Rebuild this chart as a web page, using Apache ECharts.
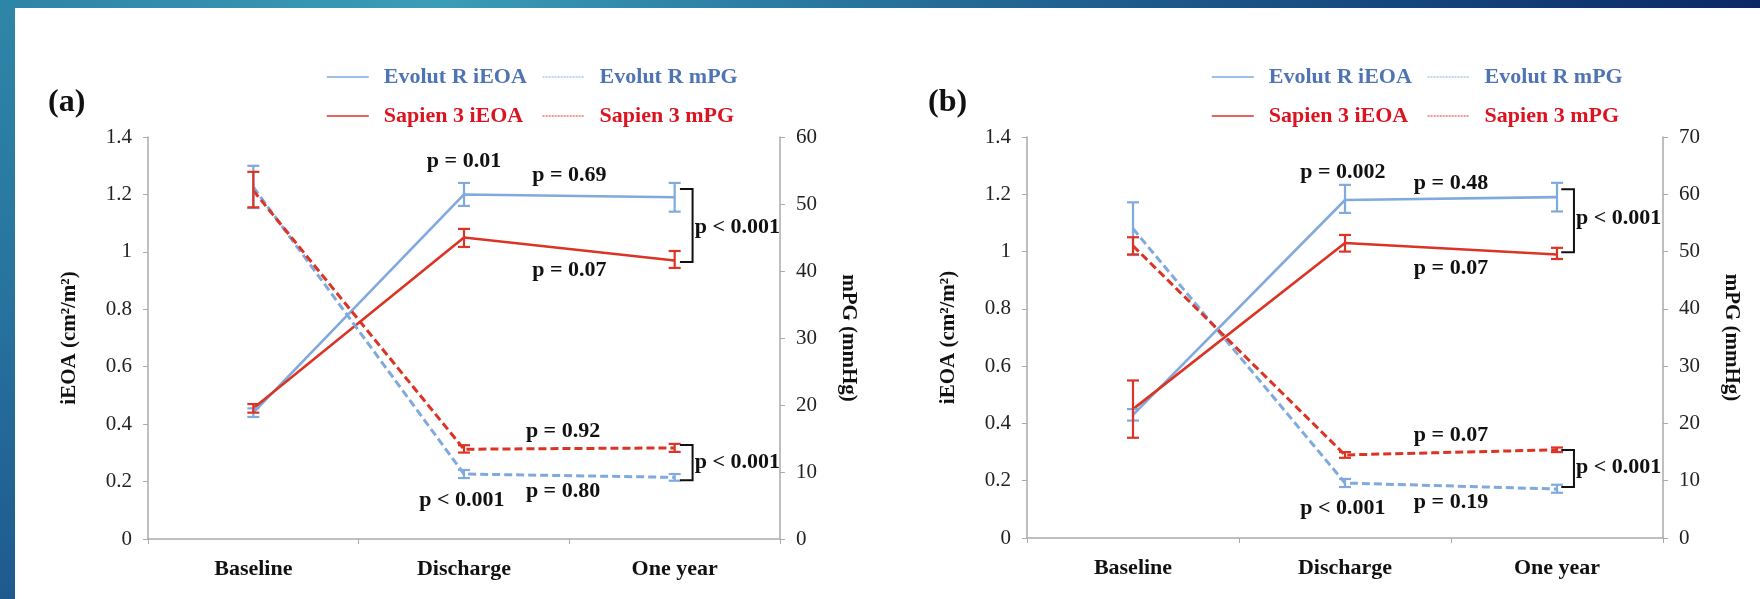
<!DOCTYPE html>
<html lang="en">
<head>
<meta charset="UTF-8">
<title>iEOA and mPG</title>
<style>
  html, body { margin: 0; padding: 0; background: #fff; }
  #wrap { position: relative; width: 1760px; height: 599px; overflow: hidden; background: #fff; }
  #chart { position: absolute; left: 0; top: 0; width: 1760px; height: 599px; }
  .band-top { position: absolute; left: 0; top: 0; width: 1760px; height: 8px;
    background: linear-gradient(90deg, #2e84a6 0%, #3a9db6 25%, #2a7aa0 45%, #1d5a8c 65%, #123f78 85%, #0b2766 100%); }
  .band-left { position: absolute; left: 0; top: 0; width: 15px; height: 599px;
    background: linear-gradient(180deg, #2e86a8 0%, #27739e 50%, #1e5a8e 100%); }
</style>
</head>
<body>
<div id="wrap">
  <div id="chart"></div>
  <div class="band-top"></div>
  <div class="band-left"></div>
</div>
<script src="https://cdn.jsdelivr.net/npm/echarts@6/dist/echarts.min.js"></script>
<script>
  // ---- data ----
  const categories = ['Baseline', 'Discharge', 'One year'];

  // panel (a)
  const aEvolutEOA = [0.44, 1.20, 1.19];
  const aEvolutEOAErr = [[0.425, 0.455], [1.16, 1.24], [1.14, 1.24]];
  const aSapienEOA = [0.455, 1.05, 0.97];
  const aSapienEOAErr = [[0.44, 0.47], [1.017, 1.08], [0.944, 1.003]];
  const aEvolutPG = [52.5, 9.7, 9.2];
  const aEvolutPGErr = [[49.4, 55.7], [9.1, 10.3], [8.7, 9.7]];
  const aSapienPG = [52, 13.4, 13.6];
  const aSapienPGErr = [[49.5, 54.8], [12.9, 14.0], [13.0, 14.2]];
  const aPGMax = 60;

  // panel (b)
  const bEvolutEOA = [0.43, 1.18, 1.19];
  const bEvolutEOAErr = [[0.41, 0.45], [1.135, 1.233], [1.14, 1.24]];
  const bSapienEOA = [0.45, 1.03, 0.99];
  const bSapienEOAErr = [[0.35, 0.55], [1.0, 1.058], [0.974, 1.013]];
  const bEvolutPG = [54, 9.6, 8.55];
  const bEvolutPGErr = [[49.4, 58.6], [8.9, 10.3], [7.9, 9.3]];
  const bSapienPG = [51, 14.5, 15.4];
  const bSapienPGErr = [[49.5, 52.5], [14.0, 15.0], [15.0, 15.8]];
  const bPGMax = 70;

  // p-value annotations [x (category units), iEOA value, text]
  const aPText = [[1, 1.316, 'p = 0.01'], [1.5, 1.268, 'p = 0.69'], [1.5, 0.937, 'p = 0.07'],
                  [1.47, 0.376, 'p = 0.92'], [0.99, 0.136, 'p < 0.001'], [1.47, 0.167, 'p = 0.80']];
  const aBracketText = [[2.095, 1.087, 'p < 0.001'], [2.095, 0.268, 'p < 0.001']];
  const aBrackets = [[2.025, 2.085, 1.219, 0.965], [2.025, 2.085, 0.327, 0.205]];

  const bPText = [[0.99, 1.278, 'p = 0.002'], [1.5, 1.239, 'p = 0.48'], [1.5, 0.943, 'p = 0.07'],
                  [1.5, 0.36, 'p = 0.07'], [0.99, 0.105, 'p < 0.001'], [1.5, 0.126, 'p = 0.19']];
  const bBracketText = [[2.09, 1.117, 'p < 0.001'], [2.09, 0.248, 'p < 0.001']];
  const bBrackets = [[2.02, 2.08, 1.218, 0.998], [2.02, 2.08, 0.307, 0.178]];

  const BLUE = '#80a9de';
  const RED = '#dc3424';
  const BLUE_TXT = '#4f74b4';
  const RED_TXT = '#dc1420';
  const FONT = 'Liberation Serif';

  let myChart = echarts.init(document.getElementById('chart'));

  function errSeries(g, yIdx, errs, color) {
    return {
      type: 'custom', xAxisIndex: g * 2, yAxisIndex: g * 2 + yIdx,
      data: errs.map((e, i) => [i, e[0], e[1]]),
      z: 5, silent: true,
      renderItem: function (params, api) {
        let lo = api.coord([api.value(0), api.value(1)]);
        let hi = api.coord([api.value(0), api.value(2)]);
        let w = 6;
        let st = { stroke: color, lineWidth: 2.2 };
        return {
          type: 'group', children: [
            { type: 'line', shape: { x1: lo[0], y1: lo[1], x2: hi[0], y2: hi[1] }, style: st },
            { type: 'line', shape: { x1: lo[0] - w, y1: lo[1], x2: lo[0] + w, y2: lo[1] }, style: st },
            { type: 'line', shape: { x1: hi[0] - w, y1: hi[1], x2: hi[0] + w, y2: hi[1] }, style: st }
          ]
        };
      }
    };
  }

  function textSeries(g, arr, align) {
    return {
      type: 'custom', xAxisIndex: g * 2 + 1, yAxisIndex: g * 2, silent: true, z: 10,
      data: arr.map(p => [p[0], p[1]]),
      renderItem: function (params, api) {
        let pt = api.coord([api.value(0), api.value(1)]);
        return {
          type: 'text', x: pt[0], y: pt[1],
          style: { text: arr[params.dataIndex][2], fill: '#111', font: 'bold 22px ' + FONT, align: align, verticalAlign: 'middle' }
        };
      }
    };
  }

  function bracketSeries(g, arr) {
    return {
      type: 'custom', xAxisIndex: g * 2 + 1, yAxisIndex: g * 2, silent: true, z: 10,
      data: arr.map(b => b),
      renderItem: function (params, api) {
        let p1 = api.coord([api.value(0), api.value(2)]);
        let p2 = api.coord([api.value(1), api.value(2)]);
        let p3 = api.coord([api.value(1), api.value(3)]);
        let p4 = api.coord([api.value(0), api.value(3)]);
        return {
          type: 'polyline', shape: { points: [p1, p2, p3, p4] },
          style: { stroke: '#111', lineWidth: 2, fill: null }
        };
      }
    };
  }

  function lineSeries(name, g, yIdx, data, color, dashed) {
    return {
      name: name, type: 'line', xAxisIndex: g * 2, yAxisIndex: g * 2 + yIdx,
      data: data, symbol: 'none', showSymbol: false, z: 4,
      lineStyle: { color: color, width: dashed ? 3 : 2.6, type: dashed ? [8, 4] : 'solid' },
      itemStyle: { color: color }
    };
  }

  function legendItem(name, left, top, txtColor, dashed) {
    return {
      data: [name], left: left, top: top, padding: 0, itemWidth: 42, itemHeight: 12,
      selectedMode: false,
      itemStyle: { opacity: 0 },
      lineStyle: { width: dashed ? 1.2 : 1.6, type: dashed ? [2, 1] : 'solid' },
      textStyle: { fontFamily: FONT, fontWeight: 'bold', fontSize: 22, color: txtColor, padding: [0, 0, 0, 10] }
    };
  }

  const grids = [
    { left: 148, right: 1760 - 780, top: 137, height: 402 },
    { left: 1027, right: 1760 - 1663, top: 137, height: 401 }
  ];

  let xAxes = [], yAxes = [];
  const axisLine = { show: true, onZero: false, lineStyle: { color: '#aaaaaa', width: 1.5 } };
  const tick = { show: true, length: 5, lineStyle: { color: '#aaaaaa' } };
  [aPGMax, bPGMax].forEach(function (pgMax, g) {
    xAxes.push({
      type: 'category', gridIndex: g, data: categories, boundaryGap: true,
      axisLine: axisLine, axisTick: tick,
      axisLabel: { fontFamily: FONT, fontWeight: 'bold', fontSize: 22, color: '#111', margin: 19 }
    });
    xAxes.push({ type: 'value', gridIndex: g, min: -0.5, max: 2.5, show: false });
    yAxes.push({
      type: 'value', gridIndex: g, min: 0, max: 1.4, interval: 0.2, position: 'left',
      name: 'iEOA (cm²/m²)', nameLocation: 'middle', nameGap: 68, nameRotate: 90,
      nameTextStyle: { fontFamily: FONT, fontWeight: 'bold', fontSize: 21, color: '#111' },
      axisLine: axisLine, axisTick: tick,
      splitLine: { show: false },
      axisLabel: { fontFamily: FONT, fontSize: 21, color: '#222', margin: 16 }
    });
    yAxes.push({
      type: 'value', gridIndex: g, min: 0, max: pgMax, interval: 10, position: 'right',
      name: 'mPG (mmHg)', nameLocation: 'middle', nameGap: 58, nameRotate: -90,
      nameTextStyle: { fontFamily: FONT, fontWeight: 'bold', fontSize: 21, color: '#111' },
      axisLine: axisLine, axisTick: tick,
      splitLine: { show: false },
      axisLabel: { fontFamily: FONT, fontSize: 21, color: '#222', margin: 16 }
    });
  });

  const panels = [
    [aEvolutEOA, aEvolutEOAErr, aSapienEOA, aSapienEOAErr, aEvolutPG, aEvolutPGErr, aSapienPG, aSapienPGErr, aPText, aBracketText, aBrackets],
    [bEvolutEOA, bEvolutEOAErr, bSapienEOA, bSapienEOAErr, bEvolutPG, bEvolutPGErr, bSapienPG, bSapienPGErr, bPText, bBracketText, bBrackets]
  ];

  let series = [];
  panels.forEach(function (p, g) {
    series.push(lineSeries('Evolut R iEOA', g, 0, p[0], BLUE, false));
    series.push(lineSeries('Sapien 3 iEOA', g, 0, p[2], RED, false));
    series.push(lineSeries('Evolut R mPG', g, 1, p[4], BLUE, true));
    series.push(lineSeries('Sapien 3 mPG', g, 1, p[6], RED, true));
    series.push(errSeries(g, 0, p[1], BLUE));
    series.push(errSeries(g, 0, p[3], RED));
    series.push(errSeries(g, 1, p[5], BLUE));
    series.push(errSeries(g, 1, p[7], RED));
    series.push(textSeries(g, p[8], 'center'));
    series.push(textSeries(g, p[9], 'left'));
    series.push(bracketSeries(g, p[10]));
  });

  let legends = [];
  [[326, 542], [1211, 1427]].forEach(function (xs) {
    legends.push(legendItem('Evolut R iEOA', xs[0], 66, BLUE_TXT, false));
    legends.push(legendItem('Evolut R mPG', xs[1], 66, BLUE_TXT, true));
    legends.push(legendItem('Sapien 3 iEOA', xs[0], 105, RED_TXT, false));
    legends.push(legendItem('Sapien 3 mPG', xs[1], 105, RED_TXT, true));
  });

  let option = {
    animation: false,
    grid: grids,
    xAxis: xAxes,
    yAxis: yAxes,
    legend: legends,
    graphic: [
      { type: 'text', left: 48, top: 87, style: { text: '(a)', font: 'bold 32px ' + FONT, fill: '#111' } },
      { type: 'text', left: 928, top: 87, style: { text: '(b)', font: 'bold 32px ' + FONT, fill: '#111' } }
    ],
    series: series
  };
  myChart.setOption(option);
</script>
</body>
</html>
